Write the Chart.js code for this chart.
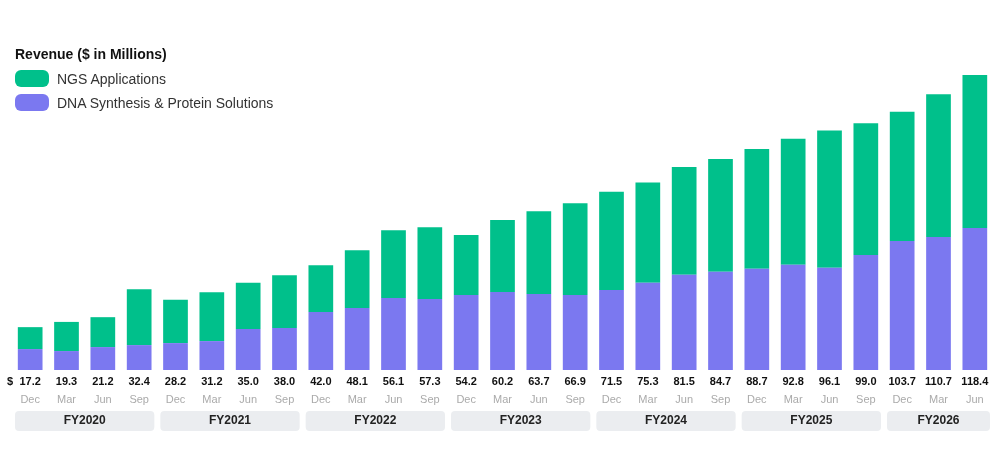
<!DOCTYPE html>
<html><head><meta charset="utf-8">
<script src="https://cdn.jsdelivr.net/npm/chart.js@4"></script>
<style>
body{margin:0;background:#fff;font-family:Arial,"Liberation Sans",sans-serif}
#wrap{position:relative;width:1003px;height:464px}
#leg{position:absolute;left:15px;top:46px;font-size:14px;color:#333}
#leg .t{font-weight:bold;color:#111;margin-bottom:8px;font-size:14px}
#leg .i{display:flex;align-items:center;margin-bottom:7px}
#leg .s{width:34px;height:17px;border-radius:6px;margin-right:8px}
</style></head><body>
<div id="wrap"><canvas id="c" width="1003" height="464"></canvas>
<div id="leg"><div class="t">Revenue ($ in Millions)</div>
<div class="i"><span class="s" style="background:#00c08b"></span>NGS Applications</div>
<div class="i"><span class="s" style="background:#7b78f0"></span>DNA Synthesis &amp; Protein Solutions</div></div></div>
<script>
const months = ["Dec","Mar","Jun","Sep","Dec","Mar","Jun","Sep","Dec","Mar","Jun","Sep","Dec","Mar","Jun","Sep","Dec","Mar","Jun","Sep","Dec","Mar","Jun","Sep","Dec","Mar","Jun"];
const totals = [17.2,19.3,21.2,32.4,28.2,31.2,35.0,38.0,42.0,48.1,56.1,57.3,54.2,60.2,63.7,66.9,71.5,75.3,81.5,84.7,88.7,92.8,96.1,99.0,103.7,110.7,118.4];
const dnaSynthesis = [8.4,7.6,9.2,10.0,10.8,11.6,16.5,16.9,23.3,24.9,28.9,28.5,30.1,31.3,30.5,30.1,32.1,35.0,38.2,39.4,40.6,42.2,41.0,46.2,51.8,53.4,57.0];
const ngs = totals.map((t, i) => +(t - dnaSynthesis[i]).toFixed(1));
const fiscalYears = ["FY2020","FY2021","FY2022","FY2023","FY2024","FY2025","FY2026"];

const labelsPlugin = {
  id: "labels",
  afterDraw(chart) {
    const ctx = chart.ctx, x = chart.scales.x;
    ctx.save();
    ctx.textAlign = "center";
    ctx.textBaseline = "middle";
    ctx.font = "bold 11px Arial, 'Liberation Sans'";
    ctx.fillStyle = "#111";
    ctx.fillText("$", 10, 382);
    totals.forEach((t, i) => ctx.fillText(t.toFixed(1), x.getPixelForValue(i), 382));
    ctx.font = "11px Arial, 'Liberation Sans'";
    ctx.fillStyle = "#aaa";
    months.forEach((m, i) => ctx.fillText(m, x.getPixelForValue(i), 400));
    const step = x.getPixelForValue(1) - x.getPixelForValue(0);
    fiscalYears.forEach((fy, g) => {
      const a = g * 4, b = Math.min(a + 3, months.length - 1);
      const l = x.getPixelForValue(a) - step / 2 + 3, r = x.getPixelForValue(b) + step / 2 - 3;
      ctx.fillStyle = "#ebedf0";
      ctx.beginPath();
      ctx.roundRect(l, 411, r - l, 20, 4);
      ctx.fill();
      ctx.fillStyle = "#222";
      ctx.font = "bold 12px Arial, 'Liberation Sans'";
      ctx.fillText(fy, (l + r) / 2, 421);
    });
    ctx.restore();
  }
};

new Chart(document.getElementById("c"), {
  type: "bar",
  data: {
    labels: months,
    datasets: [
      { label: "DNA Synthesis & Protein Solutions", data: dnaSynthesis, backgroundColor: "#7b78f0", barPercentage: 0.68, categoryPercentage: 1 },
      { label: "NGS Applications", data: ngs, backgroundColor: "#00c08b", barPercentage: 0.68, categoryPercentage: 1 }
    ]
  },
  options: {
    responsive: false, animation: false,
    layout: { padding: { left: 12, right: 10, top: 75, bottom: 94 } },
    plugins: { legend: { display: false }, tooltip: { enabled: false } },
    scales: {
      x: { stacked: true, display: false },
      y: { stacked: true, display: false, min: 0, max: 118.4 }
    }
  },
  plugins: [labelsPlugin]
});
</script></body></html>
